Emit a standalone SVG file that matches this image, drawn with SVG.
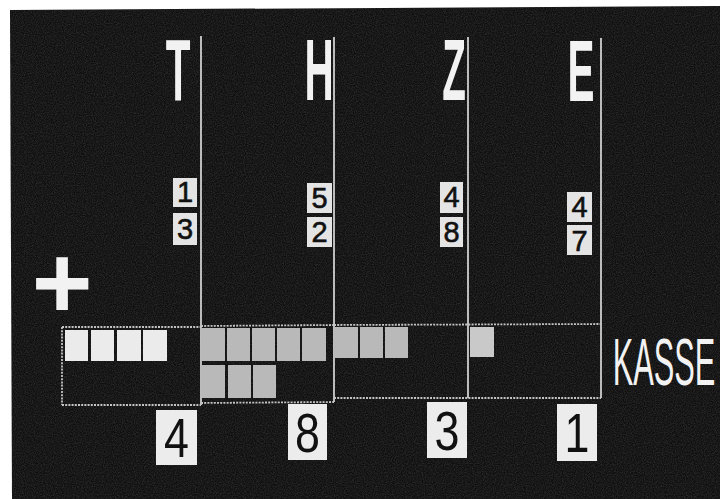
<svg xmlns="http://www.w3.org/2000/svg" width="720" height="499" viewBox="0 0 720 499">
<defs>
<filter id="grain" x="0" y="0" width="100%" height="100%">
<feTurbulence type="fractalNoise" baseFrequency="0.9" numOctaves="2" seed="3" result="n"/>
<feColorMatrix in="n" type="matrix" values="0 0 0 0 1  0 0 0 0 1  0 0 0 0 1  0 0 0 0.22 -0.07"/>
<feComposite in2="SourceGraphic" operator="in"/>
</filter>
</defs>
<style>
.head{font-family:"Liberation Sans",Arial,sans-serif;font-weight:bold;font-size:88px;fill:#f2f2f2;text-anchor:middle}
.kasse{font-family:"Liberation Sans",Arial,sans-serif;font-size:67px;fill:#f2f2f2;text-anchor:middle}
.plus{font-family:"Liberation Sans",Arial,sans-serif;font-weight:bold;font-size:104px;fill:#f2f2f2;text-anchor:middle}
.card{fill:#e4e4e4}
.small{font-family:"Liberation Sans",Arial,sans-serif;font-size:29px;fill:#111;text-anchor:middle;stroke:#111;stroke-width:0.6}
.res{fill:#ececec}
.big{font-family:"Liberation Sans",Arial,sans-serif;font-size:56px;fill:#111;text-anchor:middle}
.line{stroke:#cfcfcf;stroke-width:1.8;fill:none}
.dot{stroke:#c4c4c4;stroke-width:1.8;fill:none;stroke-dasharray:2 1.2}
.sqW{fill:#ebebeb}
.sqG{fill:#b9b9b9}
.sqE{fill:#c9c9c9}
</style>
<rect x="0" y="0" width="720" height="499" fill="#ffffff"/>
<polygon points="10,10 720,6 720,499 12,499" fill="#0f0f0f"/>
<polygon points="10,10 720,6 720,499 12,499" fill="#0f0f0f" filter="url(#grain)"/>

<g id="connectors">
<line class="line" x1="201" y1="36" x2="201" y2="405"/>
<line class="line" x1="334" y1="37" x2="334" y2="402"/>
<line class="line" x1="468" y1="37" x2="468" y2="398"/>
<line class="line" x1="601" y1="38" x2="601" y2="398"/>
<line class="dot" x1="62" y1="327" x2="201" y2="327"/>
<line class="dot" x1="201" y1="326" x2="334" y2="325"/>
<line class="dot" x1="334" y1="325" x2="601" y2="324"/>
<line class="dot" x1="62" y1="327" x2="62" y2="405"/>
<line class="dot" x1="62" y1="405" x2="201" y2="405"/>
<line class="dot" x1="201" y1="403" x2="334" y2="402"/>
<line class="dot" x1="334" y1="398" x2="601" y2="398"/>
</g>

<g id="headers">
<text class="head" transform="translate(178,100) scale(0.46,1)">T</text>
<text class="head" transform="translate(319,100) scale(0.46,1)">H</text>
<text class="head" transform="translate(454,100) scale(0.44,1)">Z</text>
<text class="head" transform="translate(581,101) scale(0.46,1)">E</text>
</g>

<g id="plus">
<text class="plus" x="62" y="318">+</text>
</g>

<g id="addends-T">
<rect class="card" x="173" y="178" width="24" height="29"/>
<text class="small" x="185" y="202">1</text>
<rect class="card" x="173" y="213" width="24" height="32"/>
<text class="small" x="185" y="239">3</text>
</g>
<g id="addends-H">
<rect class="card" x="307" y="183" width="25" height="30"/>
<text class="small" x="319.5" y="208">5</text>
<rect class="card" x="307" y="217" width="25" height="30"/>
<text class="small" x="319.5" y="242">2</text>
</g>
<g id="addends-Z">
<rect class="card" x="440" y="182" width="23" height="31"/>
<text class="small" x="451.5" y="207">4</text>
<rect class="card" x="440" y="217" width="23" height="30"/>
<text class="small" x="451.5" y="242">8</text>
</g>
<g id="addends-E">
<rect class="card" x="567" y="192" width="25" height="30"/>
<text class="small" x="579.5" y="217">4</text>
<rect class="card" x="567" y="225" width="25" height="30"/>
<text class="small" x="579.5" y="251">7</text>
</g>

<g id="kasse-T">
<rect class="sqW" x="65" y="330" width="23" height="31"/>
<rect class="sqW" x="91" y="330" width="23" height="31"/>
<rect class="sqW" x="117" y="330" width="24" height="31"/>
<rect class="sqW" x="143" y="330" width="24" height="31"/>
</g>
<g id="kasse-H">
<rect class="sqG" x="201" y="328" width="24" height="33"/>
<rect class="sqG" x="227" y="328" width="23" height="33"/>
<rect class="sqG" x="252" y="328" width="23" height="33"/>
<rect class="sqG" x="277" y="328" width="23" height="33"/>
<rect class="sqG" x="302" y="328" width="24" height="33"/>
<rect class="sqG" x="201" y="365" width="24" height="33"/>
<rect class="sqG" x="228" y="365" width="23" height="33"/>
<rect class="sqG" x="253" y="365" width="23" height="33"/>
</g>
<g id="kasse-Z">
<rect class="sqG" x="334" y="327" width="24" height="31"/>
<rect class="sqG" x="360" y="327" width="23" height="31"/>
<rect class="sqG" x="385" y="327" width="23" height="31"/>
</g>
<g id="kasse-E">
<rect class="sqE" x="470" y="327" width="24" height="30"/>
</g>
<g id="kasse-label">
<text class="kasse" transform="translate(664,385) scale(0.46,1)">KASSE</text>
</g>

<g id="result-T">
<rect class="res" x="156" y="410" width="41" height="55"/>
<text class="big" transform="translate(176.5,457) scale(0.8,1)">4</text>
</g>
<g id="result-H">
<rect class="res" x="288" y="404" width="39" height="56"/>
<text class="big" transform="translate(307.5,452) scale(0.8,1)">8</text>
</g>
<g id="result-Z">
<rect class="res" x="427" y="402" width="40" height="56"/>
<text class="big" transform="translate(447,450) scale(0.8,1)">3</text>
</g>
<g id="result-E">
<rect class="res" x="557" y="404" width="40" height="57"/>
<text class="big" transform="translate(577,452) scale(0.8,1)">1</text>
</g>
</svg>
